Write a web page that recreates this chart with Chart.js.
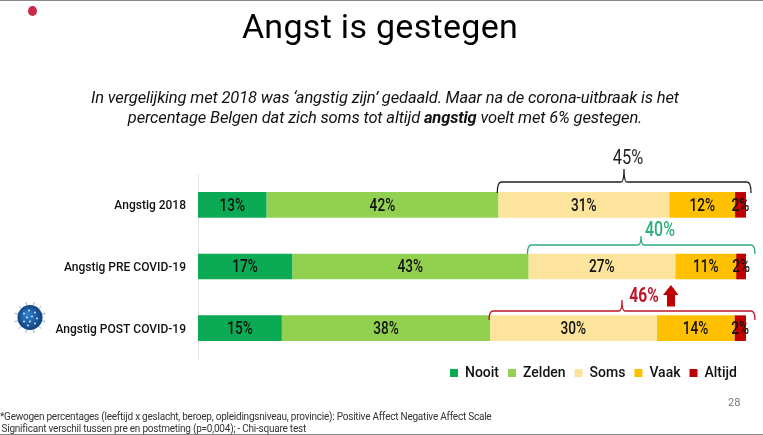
<!DOCTYPE html>
<html><head><meta charset="utf-8">
<style>
html,body{margin:0;padding:0;background:#fff;width:763px;height:435px;overflow:hidden}
#wrap{position:relative;width:763px;height:435px;font-family:"Roboto",sans-serif;color:#111}
canvas{position:absolute;left:0;top:0}
.t{position:absolute;white-space:nowrap}
#title{left:0;width:760px;text-align:center;top:4px;font-size:34px;letter-spacing:.3px;color:#000;line-height:44px}
.sub{left:0;width:770px;text-align:center;font-size:16.5px;letter-spacing:-.15px;font-style:italic;line-height:22px;color:#111}
.foot{font-size:10px;letter-spacing:-.23px;line-height:13px;color:#333}
#rule1,#rule2{position:absolute;left:0;width:763px;height:1px;background:#888}
#dot{position:absolute;left:28px;top:6px;width:9px;height:10px;border-radius:50%;background:#C8284A}
</style></head><body>
<div id="wrap">
<canvas id="c" width="763" height="435"></canvas>
<div id="rule1" style="top:0"></div><div id="rule2" style="top:434px"></div>
<div id="dot"></div>
<div class="t" id="title">Angst is gestegen</div>
<div class="t sub" style="top:87px">In vergelijking met 2018 was ‘angstig zijn’ gedaald. Maar na de corona-uitbraak is het</div>
<div class="t sub" style="top:107px">percentage Belgen dat zich soms tot altijd <b>angstig</b> voelt met 6% gestegen.</div>
<div class="t" style="left:728px;top:396px;font-size:11px;color:#777">28</div>
<div class="t foot" style="left:0;top:410px">*Gewogen percentages (leeftijd x geslacht, beroep, opleidingsniveau, provincie): Positive Affect Negative Affect Scale</div>
<div class="t foot" style="left:1.5px;top:422px">Significant verschil tussen pre en postmeting (p=0,004); - Chi-square test</div>
</div>
<script src="https://cdn.jsdelivr.net/npm/chart.js@4"></script>
<script>
const categories = ["Angstig 2018", "Angstig PRE COVID-19", "Angstig POST COVID-19"];
const nooit  = [12.5, 17.2, 15.3];
const zelden = [42.3, 43.1, 38.0];
const soms   = [31.2, 26.8, 30.4];
const vaak   = [12.0, 11.1, 14.2];
const altijd = [2.0, 1.8, 2.1];
const seriesNames = ["Nooit", "Zelden", "Soms", "Vaak", "Altijd"];
const seriesColors = ["#0BAA55", "#92D050", "#FCE49C", "#FFC000", "#C00000"];
const totals = ["45%", "40%", "46%"];
const FONT = 'Roboto,sans-serif';

function narrowText(ctx, text, x, y, sx) {
  ctx.save();
  ctx.translate(x, y);
  ctx.scale(sx, 1);
  ctx.fillText(text, 0, 0);
  ctx.restore();
}

const overlay = {
  id: 'overlay',
  afterLayout(chart) { chart.legend.top = 357; },
  afterDatasetsDraw(chart) {
    const ctx = chart.ctx, x = chart.scales.x;
    ctx.save();
    ctx.textAlign = 'center'; ctx.textBaseline = 'middle';
    ctx.fillStyle = '#111'; ctx.font = '500 17.5px ' + FONT;
    chart.data.datasets.forEach((ds, i) => {
      chart.getDatasetMeta(i).data.forEach((bar, j) => {
        const cx = (bar.x + bar.base) / 2;
        narrowText(ctx, Math.round(ds.data[j]) + '%', cx, bar.y + 1.5, 0.78);
      });
    });
    const cfg = [
      {top: 182, drop: 11, tick: 624, rise: 13, end: 751, color: '#222', lx: 628, ly: 159, font: '20px ', sx: 0.82},
      {top: 245, drop: 9,  tick: 641, rise: 9,  end: 755, color: '#2BAE7A', lx: 660, ly: 231, font: '500 20px ', sx: 0.8},
      {top: 311, drop: 9,  tick: 622, rise: 11, end: 755, color: '#C0142A', lx: 644, ly: 297, font: 'bold 20px ', sx: 0.78}
    ];
    cfg.forEach((b, i) => {
      const x0 = x.getPixelForValue(nooit[i] + zelden[i]) - 1;
      ctx.strokeStyle = b.color; ctx.lineWidth = 1.3;
      ctx.beginPath();
      ctx.moveTo(x0, b.top + b.drop);
      ctx.quadraticCurveTo(x0, b.top, x0 + 4, b.top);
      ctx.lineTo(b.tick - 3, b.top);
      ctx.quadraticCurveTo(b.tick, b.top, b.tick, b.top - b.rise);
      ctx.quadraticCurveTo(b.tick, b.top, b.tick + 3, b.top);
      ctx.lineTo(b.end - 4, b.top);
      ctx.quadraticCurveTo(b.end, b.top, b.end, b.top + b.drop);
      ctx.stroke();
      ctx.fillStyle = b.color; ctx.font = b.font + FONT;
      narrowText(ctx, totals[i], b.lx, b.ly, b.sx);
    });
    ctx.fillStyle = '#C00000';
    ctx.beginPath();
    ctx.moveTo(671, 285); ctx.lineTo(678.5, 295); ctx.lineTo(675, 295); ctx.lineTo(675, 306.5);
    ctx.lineTo(667, 306.5); ctx.lineTo(667, 295); ctx.lineTo(663, 295); ctx.closePath(); ctx.fill();
    const vx = 30, vy = 317.5, r = 12.5;
    ctx.strokeStyle = '#7FB2DE'; ctx.lineWidth = 1;
    for (let a = 0; a < 12; a++) {
      const t = a * Math.PI / 6 + 0.26;
      ctx.beginPath();
      ctx.moveTo(vx + r * Math.cos(t), vy + r * Math.sin(t));
      ctx.lineTo(vx + (r + 3.5) * Math.cos(t), vy + (r + 3.5) * Math.sin(t));
      ctx.stroke();
    }
    const g = ctx.createRadialGradient(vx - 3, vy - 3, 2, vx, vy, r);
    g.addColorStop(0, '#2F7CC8'); g.addColorStop(1, '#12407F');
    ctx.fillStyle = g;
    ctx.beginPath(); ctx.arc(vx, vy, r, 0, Math.PI * 2); ctx.fill();
    ctx.fillStyle = '#CFE4F7';
    [[-6,-4],[-1,-7],[5,-5],[-3,0],[2,-1],[7,1],[-6,4],[0,4],[5,6],[-2,8]].forEach(p => {
      ctx.beginPath(); ctx.arc(vx + p[0], vy + p[1], 1, 0, Math.PI * 2); ctx.fill();
    });
    ctx.restore();
  }
};

const seriesData = [nooit, zelden, soms, vaak, altijd];
new Chart(document.getElementById('c'), {
  type: 'bar',
  plugins: [overlay],
  data: {
    labels: categories,
    datasets: seriesNames.map((n, i) => ({
      label: n, data: seriesData[i], backgroundColor: seriesColors[i],
      borderWidth: 0, categoryPercentage: 1, barPercentage: 0.415
    }))
  },
  options: {
    indexAxis: 'y', responsive: false, animation: false,
    devicePixelRatio: 1,
    layout: {padding: {left: 0, right: 17, top: 174, bottom: 43}},
    scales: {
      x: {stacked: true, min: 0, max: 100, display: false},
      y: {
        stacked: true,
        grid: {display: false, drawTicks: false},
        border: {display: true, color: '#E2E2E2', width: 1},
        ticks: {padding: 12, labelOffset: 1.5, color: '#111', font: {family: FONT, size: 12, weight: '500'}},
        afterFit(s) { s.width = 198; }
      }
    },
    plugins: {
      tooltip: {enabled: false},
      title: {display: false},
      legend: {
        display: true, position: 'bottom', align: 'end',
        labels: {boxWidth: 8, boxHeight: 8, padding: 9, color: '#111', font: {family: FONT, size: 14, weight: '500'}}
      }
    }
  }
});
</script>
</body></html>
